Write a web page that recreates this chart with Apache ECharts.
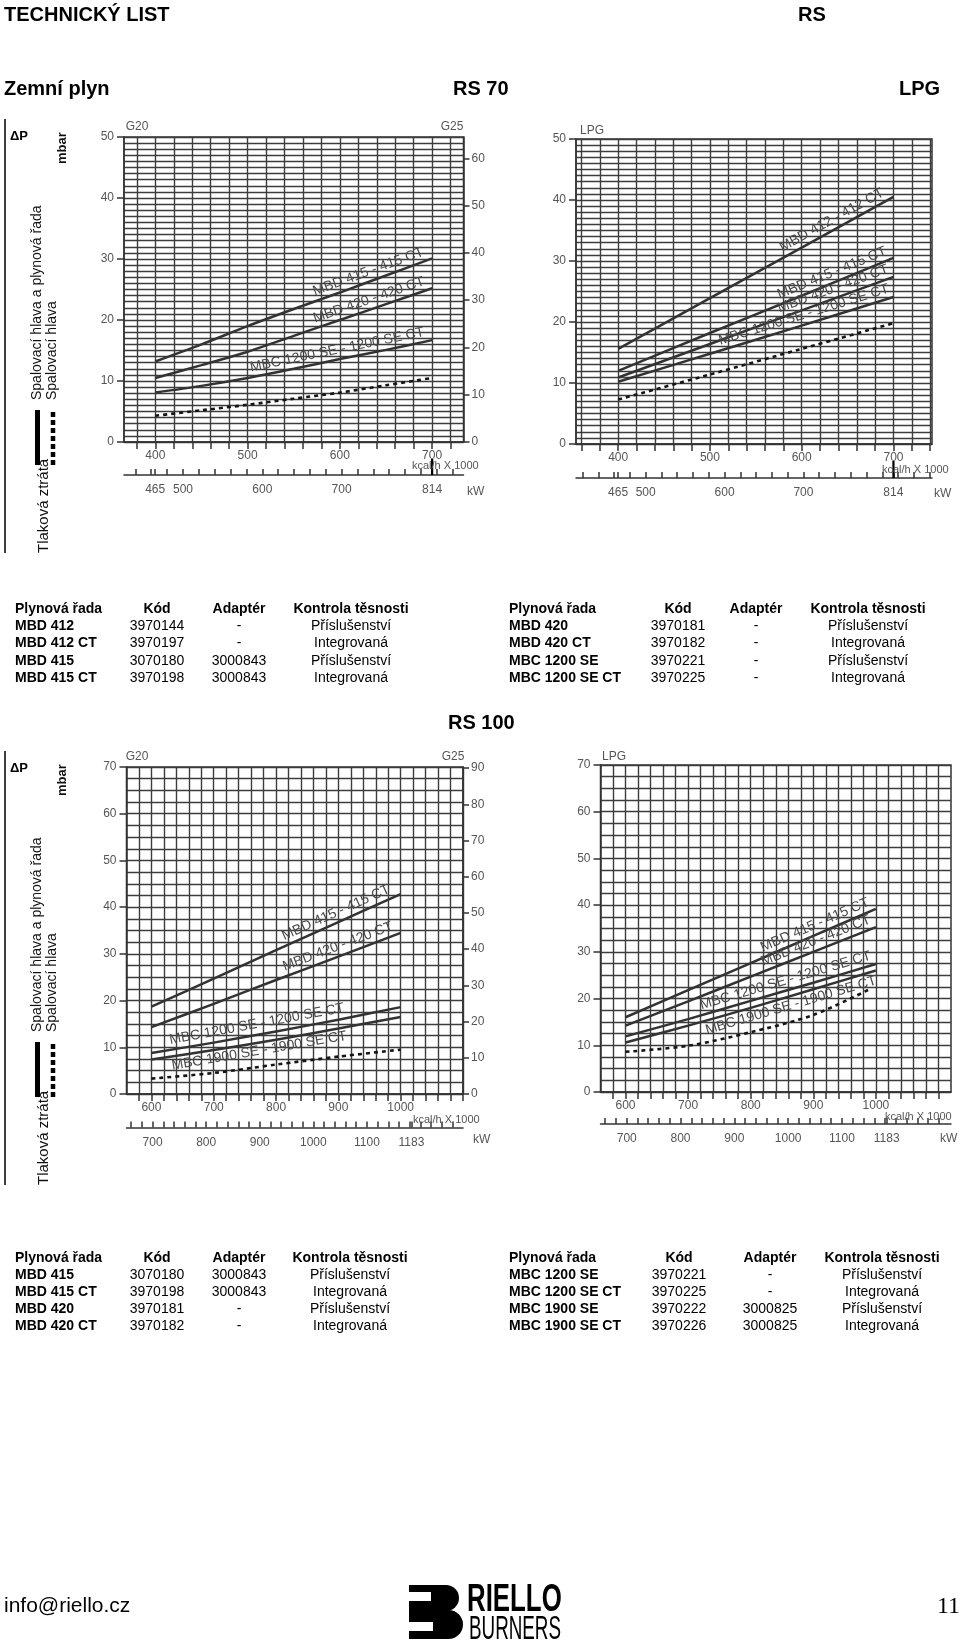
<!DOCTYPE html>
<html lang="cs">
<head>
<meta charset="utf-8">
<title>RS 70 / RS 100 – tlaková ztráta</title>
<script src="https://cdn.jsdelivr.net/npm/echarts@6.0.0/dist/echarts.min.js"></script>
<style>
html,body{margin:0;padding:0;background:#fff}
body{width:960px;height:1645px;position:relative;overflow:hidden;font-family:"Liberation Sans",Arial,sans-serif;color:#000}
#chart{position:absolute;left:0;top:0;width:960px;height:1645px}
.t{position:absolute;white-space:nowrap;line-height:22px}
.h{font-size:20px;font-weight:bold}
.cell{position:absolute;white-space:nowrap;font-size:14px;line-height:18px}
.blk{position:absolute;background:#000}
.wht{position:absolute;background:#fff}
.lg{position:absolute;white-space:nowrap;transform-origin:0 0;color:#000}
</style>
</head>
<body>
<div id="chart"></div>

<div class="t h" style="left:4px;top:3px">TECHNICKÝ LIST</div>
<div class="t h" style="left:798px;top:3px">RS</div>
<div class="t h" style="left:4px;top:77px">Zemní plyn</div>
<div class="t h" style="left:453px;top:77px">RS 70</div>
<div class="t h" style="left:899px;top:77px">LPG</div>
<div class="t h" style="left:448px;top:711px">RS 100</div>
<div class="t" style="left:4px;top:1594px;font-size:21px">info@riello.cz</div>
<div class="t" style="left:937px;top:1594px;font-size:24px;font-family:'Liberation Serif','Times New Roman',serif">11</div>

<div class="blk" style="left:409px;top:1585px;width:50px;height:26px;border-radius:0 13px 13px 0"></div>
<div class="blk" style="left:409px;top:1610px;width:54px;height:29px;border-radius:0 15px 15px 0"></div>
<div class="wht" style="left:409px;top:1592px;width:22px;height:9px"></div>
<div class="wht" style="left:409px;top:1622px;width:24px;height:9px"></div>
<div class="lg" style="left:467px;top:1579px;font-size:38px;line-height:38px;font-weight:bold;transform:scaleX(0.68)">RIELLO</div>
<div class="lg" style="left:469px;top:1611px;font-size:33px;line-height:33px;transform:scaleX(0.57)">BURNERS</div>

<script>
// ================= DATA =================
const KW_PER_KCAL = 1.163;

// tick values / labels
const rs70KcalTicks  = [360,380,400,420,440,460,480,500,520,540,560,580,600,620,640,660,680,700,720,740];
const rs70KcalLabels = [400,500,600,700];
const rs70KwTicks    = [420,440,460,465,480,500,520,540,560,580,600,620,640,660,680,700,720,740,760,780,800,814,820,840,860];
const rs70KwLabels   = [465,500,600,700,814];
const rs100KcalTicks  = [580,600,620,640,660,680,700,720,740,760,780,800,820,840,860,880,900,920,940,960,980,1000,1020,1040,1060,1080,1100];
const rs100KcalLabels = [600,700,800,900,1000];
const rs100KwTicks    = [660,680,700,720,740,760,780,800,820,840,860,880,900,920,940,960,980,1000,1020,1040,1060,1080,1100,1120,1140,1160,1180,1183,1200,1220,1240,1260,1280];
const rs100KwLabels   = [700,800,900,1000,1100,1183];
const rs70G25Ticks  = [0,10,20,30,40,50,60];
const rs100G25Ticks = [0,10,20,30,40,50,60,70,80,90];

// curve names
const nMBD412  = 'MBD 412 - 412 CT';
const nMBD415  = 'MBD 415 - 415 CT';
const nMBD420  = 'MBD 420 - 420 CT';
const nMBC1200 = 'MBC 1200 SE - 1200 SE CT';
const nMBC1900 = 'MBC 1900 SE - 1900 SE CT';

// RS 70 – zemní plyn (G20), kcal/h x1000 -> mbar
const rs70GasX       = [400, 450, 500, 550, 600, 650, 700];
const rs70GasMBD415  = [13.2, 16.0, 19.0, 21.8, 24.5, 27.3, 30.1];
const rs70GasMBD420  = [10.5, 12.6, 14.8, 17.4, 20.0, 22.6, 25.2];
const rs70GasMBC1200 = [8.1, 9.2, 10.5, 12.0, 13.6, 15.1, 16.7];
const rs70GasHead    = [4.3, 5.2, 6.1, 7.1, 8.1, 9.3, 10.5];

// RS 70 – LPG
const rs70LpgX       = [400, 500, 600, 700];
const rs70LpgMBD412  = [15.6, 23.9, 32.2, 40.5];
const rs70LpgMBD415  = [12.0, 18.2, 24.3, 30.5];
const rs70LpgMBD420  = [10.9, 16.4, 21.9, 27.4];
const rs70LpgMBC1200 = [10.2, 14.8, 19.4, 24.1];
const rs70LpgHead    = [7.3, 11.4, 15.6, 19.8];

// RS 100 – zemní plyn (G20)
const rs100GasX       = [600, 700, 800, 900, 1000];
const rs100GasMBD415  = [18.7, 24.7, 30.8, 36.8, 42.8];
const rs100GasMBD420  = [14.3, 19.3, 24.4, 29.4, 34.5];
const rs100GasMBC1200 = [8.8, 11.0, 13.4, 15.9, 18.6];
const rs100GasMBC1900 = [7.4, 9.4, 11.6, 14.0, 16.5];
const rs100GasHead    = [3.3, 4.5, 6.3, 8.0, 9.5];

// RS 100 – LPG
const rs100LpgX       = [600, 700, 800, 900, 1000];
const rs100LpgMBD415  = [16.0, 21.8, 27.6, 33.4, 39.2];
const rs100LpgMBD420  = [14.2, 19.4, 24.7, 30.0, 35.3];
const rs100LpgMBC1200 = [11.9, 15.6, 19.5, 23.4, 27.4];
const rs100LpgMBC1900 = [10.6, 14.2, 18.0, 22.0, 26.0];
const rs100LpgHeadX   = [600, 700, 800, 900, 990];
const rs100LpgHead    = [8.6, 9.9, 12.8, 16.5, 22.0];

// tables
const tableHeader = ['Plynová řada', 'Kód', 'Adaptér', 'Kontrola těsnosti'];
const tRs70GasTrain = ['MBD 412', 'MBD 412 CT', 'MBD 415', 'MBD 415 CT'];
const tRs70GasCode  = ['3970144', '3970197', '3070180', '3970198'];
const tRs70GasAdapt = ['-', '-', '3000843', '3000843'];
const tRs70GasCtrl  = ['Příslušenství', 'Integrovaná', 'Příslušenství', 'Integrovaná'];
const tRs70LpgTrain = ['MBD 420', 'MBD 420 CT', 'MBC 1200 SE', 'MBC 1200 SE CT'];
const tRs70LpgCode  = ['3970181', '3970182', '3970221', '3970225'];
const tRs70LpgAdapt = ['-', '-', '-', '-'];
const tRs70LpgCtrl  = ['Příslušenství', 'Integrovaná', 'Příslušenství', 'Integrovaná'];
const tRs100GasTrain = ['MBD 415', 'MBD 415 CT', 'MBD 420', 'MBD 420 CT'];
const tRs100GasCode  = ['3070180', '3970198', '3970181', '3970182'];
const tRs100GasAdapt = ['3000843', '3000843', '-', '-'];
const tRs100GasCtrl  = ['Příslušenství', 'Integrovaná', 'Příslušenství', 'Integrovaná'];
const tRs100LpgTrain = ['MBC 1200 SE', 'MBC 1200 SE CT', 'MBC 1900 SE', 'MBC 1900 SE CT'];
const tRs100LpgCode  = ['3970221', '3970225', '3970222', '3970226'];
const tRs100LpgAdapt = ['-', '-', '3000825', '3000825'];
const tRs100LpgCtrl  = ['Příslušenství', 'Integrovaná', 'Příslušenství', 'Integrovaná'];

// ================= LAYOUT =================
const FONT = '"Liberation Sans", Arial, sans-serif';
const AX = '#333', GRIDC = '#3d3d3d', LBL = '#555', CURVE = '#333';

const layouts = [
  {left:124,   top:137, width:339.5, height:305, xMin:366, xMax:734,  kwOffset:33,   yMax:50, minor:10, g25Max:64.5},
  {left:576,   top:139, width:356,   height:305, xMin:354, xMax:742,  kwOffset:34,   yMax:50, minor:10},
  {left:126.5, top:767, width:336.5, height:327, xMin:560, xMax:1100, kwOffset:33.5, yMax:70, minor:4,  g25Max:90.3},
  {left:600.5, top:765, width:350.5, height:327, xMin:560, xMax:1120, kwOffset:32,   yMax:70, minor:4}
];

const charts = [
  {L:layouts[0], xTicks:rs70KcalTicks, xLabels:rs70KcalLabels, kwTicks:rs70KwTicks, kwLabels:rs70KwLabels, g25Ticks:rs70G25Ticks,
   curves:[
     {name:nMBD415,  x:rs70GasX, y:rs70GasMBD415,  from:575, to:700},
     {name:nMBD420,  x:rs70GasX, y:rs70GasMBD420,  from:575, to:700},
     {name:nMBC1200, x:rs70GasX, y:rs70GasMBC1200, from:505, to:700},
     {x:rs70GasX, y:rs70GasHead, dashed:true}
   ], arrowAt:700},
  {L:layouts[1], xTicks:rs70KcalTicks, xLabels:rs70KcalLabels, kwTicks:rs70KwTicks, kwLabels:rs70KwLabels,
   curves:[
     {name:nMBD412,  x:rs70LpgX, y:rs70LpgMBD412,  from:582, to:700},
     {name:nMBD415,  x:rs70LpgX, y:rs70LpgMBD415,  from:578, to:700},
     {name:nMBD420,  x:rs70LpgX, y:rs70LpgMBD420,  from:578, to:700},
     {name:nMBC1200, x:rs70LpgX, y:rs70LpgMBC1200, from:513, to:700},
     {x:rs70LpgX, y:rs70LpgHead, dashed:true}
   ], arrowAt:700},
  {L:layouts[2], xTicks:rs100KcalTicks, xLabels:rs100KcalLabels, kwTicks:rs100KwTicks, kwLabels:rs100KwLabels, g25Ticks:rs100G25Ticks,
   curves:[
     {name:nMBD415,  x:rs100GasX, y:rs100GasMBD415,  from:817, to:1000},
     {name:nMBD420,  x:rs100GasX, y:rs100GasMBD420,  from:817, to:1000},
     {name:nMBC1200, x:rs100GasX, y:rs100GasMBC1200, from:632, to:1000},
     {name:nMBC1900, x:rs100GasX, y:rs100GasMBC1900, from:630, to:1000, below:true},
     {x:rs100GasX, y:rs100GasHead, dashed:true}
   ]},
  {L:layouts[3], xTicks:rs100KcalTicks, xLabels:rs100KcalLabels, kwTicks:rs100KwTicks, kwLabels:rs100KwLabels,
   curves:[
     {name:nMBD415,  x:rs100LpgX, y:rs100LpgMBD415,  from:823, to:1000},
     {name:nMBD420,  x:rs100LpgX, y:rs100LpgMBD420,  from:823, to:1000},
     {name:nMBC1200, x:rs100LpgX, y:rs100LpgMBC1200, from:724, to:1000},
     {name:nMBC1900, x:rs100LpgX, y:rs100LpgMBC1900, from:724, to:1000, below:true},
     {x:rs100LpgHeadX, y:rs100LpgHead, dashed:true}
   ]}
];

// ================= TABLES (HTML) =================
const tables = [
  {cols:[tRs70GasTrain, tRs70GasCode, tRs70GasAdapt, tRs70GasCtrl], top:608, step:17.2, x:[15,157,239,351]},
  {cols:[tRs70LpgTrain, tRs70LpgCode, tRs70LpgAdapt, tRs70LpgCtrl], top:608, step:17.2, x:[509,678,756,868]},
  {cols:[tRs100GasTrain, tRs100GasCode, tRs100GasAdapt, tRs100GasCtrl], top:1257, step:17.0, x:[15,157,239,350]},
  {cols:[tRs100LpgTrain, tRs100LpgCode, tRs100LpgAdapt, tRs100LpgCtrl], top:1257, step:17.0, x:[509,679,770,882]}
];
tables.forEach(tb => {
  const nRows = tb.cols[0].length + 1;
  for (let r = 0; r < nRows; r++) {
    for (let c = 0; c < 4; c++) {
      const txt = r === 0 ? tableHeader[c] : tb.cols[c][r - 1];
      const d = document.createElement('div');
      d.className = 'cell';
      d.textContent = txt;
      d.style.top = (tb.top + r * tb.step - 9) + 'px';
      if (c === 0) {
        d.style.left = tb.x[0] + 'px';
      } else {
        d.style.left = (tb.x[c] - 100) + 'px';
        d.style.width = '200px';
        d.style.textAlign = 'center';
      }
      d.style.fontWeight = (r === 0 || c === 0) ? 'bold' : 'normal';
      document.body.appendChild(d);
    }
  }
});

// ================= CHART =================
const chart = echarts.init(document.getElementById('chart'), null, {renderer:'canvas', width:960, height:1645});
const plain = v => String(Math.round(v * 10) / 10);
const lbl = {color:LBL, fontSize:12, fontFamily:FONT, formatter:plain};
const grids = [], xAxes = [], yAxes = [], series = [];

charts.forEach((c, ci) => {
  const L = c.L;
  grids.push({left:L.left, top:L.top, width:L.width, height:L.height, show:true,
              borderColor:AX, borderWidth:1.5, backgroundColor:'rgba(0,0,0,0)'});
  c.xi = xAxes.length;
  xAxes.push({type:'value', gridIndex:ci, min:L.xMin, max:L.xMax, position:'bottom',
    axisLine:{show:true, onZero:false, lineStyle:{color:AX, width:1.5}},
    axisTick:{show:true, length:7, customValues:c.xTicks, lineStyle:{color:AX, width:1.5}},
    axisLabel:Object.assign({show:true, customValues:c.xLabels, margin:8}, lbl),
    splitLine:{show:true, lineStyle:{color:GRIDC, width:1.4}}});
  xAxes.push({type:'value', gridIndex:ci, min:L.xMin * KW_PER_KCAL, max:L.xMax * KW_PER_KCAL,
    position:'bottom', offset:L.kwOffset,
    axisLine:{show:true, onZero:false, lineStyle:{color:AX, width:1.5}},
    axisTick:{show:true, inside:true, length:6, customValues:c.kwTicks, lineStyle:{color:AX, width:1.5}},
    axisLabel:Object.assign({show:true, customValues:c.kwLabels, margin:9}, lbl),
    splitLine:{show:false}});
  c.yi = yAxes.length;
  yAxes.push({type:'value', gridIndex:ci, min:0, max:L.yMax, interval:10, position:'left',
    axisLine:{show:true, onZero:false, lineStyle:{color:AX, width:1.5}},
    axisTick:{show:true, length:7, lineStyle:{color:AX, width:1.5}},
    axisLabel:Object.assign({margin:10}, lbl),
    splitLine:{show:true, lineStyle:{color:GRIDC, width:1.4}},
    minorTick:{show:false, splitNumber:L.minor},
    minorSplitLine:{show:true, lineStyle:{color:GRIDC, width:1.3}}});
  if (L.g25Max) {
    yAxes.push({type:'value', gridIndex:ci, min:0, max:L.g25Max, position:'right',
      axisLine:{show:true, onZero:false, lineStyle:{color:AX, width:1.5}},
      axisTick:{show:true, length:6, customValues:c.g25Ticks, lineStyle:{color:AX, width:1.5}},
      axisLabel:Object.assign({customValues:c.g25Ticks, margin:8}, lbl),
      splitLine:{show:false}});
  }
  c.curves.forEach(cv => {
    series.push({type:'line', xAxisIndex:c.xi, yAxisIndex:c.yi, name:cv.name || 'Spalovací hlava',
      data:cv.x.map((v, i) => [v, cv.y[i]]), smooth:0.3, symbol:'none', silent:true, z:5,
      lineStyle: cv.dashed ? {color:'#151515', width:2.6, type:[4, 4]} : {color:CURVE, width:2.5}});
  });
});

chart.setOption({animation:false, backgroundColor:'#fff', grid:grids, xAxis:xAxes, yAxis:yAxes, series:series});

// ---------- graphic: texts / legend ----------
function interp(xs, ys, x) {
  for (let i = 0; i < xs.length - 1; i++) {
    if (x <= xs[i + 1]) { const t = (x - xs[i]) / (xs[i + 1] - xs[i]); return ys[i] + t * (ys[i + 1] - ys[i]); }
  }
  return ys[ys.length - 1];
}
function txt(t, x, y, o) {
  o = o || {};
  const align = o.align || 'left', va = o.va || 'middle';
  return {type:'text', x:x, y:y, rotation:o.rot || 0, silent:true, z:100,
    style:{text:t, fill:o.fill || LBL,
      font:(o.weight || 'normal') + ' ' + (o.size || 12) + 'px ' + FONT,
      align:align, verticalAlign:va, textAlign:align, textVerticalAlign:va}};
}
const graphics = [];

// curve labels along the lines
charts.forEach(c => {
  const f = {xAxisIndex:c.xi, yAxisIndex:c.yi};
  c.curves.forEach(cv => {
    if (!cv.name) return;
    const p0 = chart.convertToPixel(f, [cv.from, interp(cv.x, cv.y, cv.from)]);
    const p1 = chart.convertToPixel(f, [cv.to, interp(cv.x, cv.y, cv.to)]);
    const a = Math.atan2(p0[1] - p1[1], p1[0] - p0[0]);
    const d = cv.below ? -2.5 : 2.5;
    const ax = p0[0] - d * Math.sin(a), ay = p0[1] - d * Math.cos(a);
    graphics.push(txt(cv.name, ax, ay, {rot:a, size:14, fill:'#4a4a4a', va: cv.below ? 'top' : 'bottom'}));
  });
  if (c.arrowAt) {
    const p = chart.convertToPixel(f, [c.arrowAt, 0]);
    graphics.push({type:'line', silent:true, z:100, shape:{x1:p[0], y1:p[1] + 17, x2:p[0], y2:p[1] + c.L.kwOffset},
      style:{stroke:'#000', lineWidth:2.2}});
  }
});

// fixed captions
[
  ['G20', 137, 127, 'center'], ['G25', 452, 127, 'center'],
  ['kcal/h X 1000', 412, 466], ['kW', 467, 492],
  ['LPG', 580, 131], ['kcal/h X 1000', 882, 470], ['kW', 934, 494],
  ['G20', 137, 757, 'center'], ['G25', 453, 757, 'center'],
  ['kcal/h X 1000', 413, 1120], ['kW', 473, 1140],
  ['LPG', 602, 757], ['kcal/h X 1000', 885, 1117], ['kW', 940, 1139]
].forEach(a => graphics.push(txt(a[0], a[1], a[2], {align:a[3] || 'left', size:a[0].length > 3 ? 11 : 12})));

// left legend blocks
[0, 632].forEach(b => {
  graphics.push({type:'line', silent:true, shape:{x1:5, y1:119 + b, x2:5, y2:553 + b}, style:{stroke:'#000', lineWidth:1.5}});
  graphics.push(txt('ΔP', 10, 136 + b, {size:13, weight:'bold', fill:'#000'}));
  graphics.push(txt('mbar', 62, 164 + b, {size:13, weight:'bold', fill:'#111', rot:Math.PI / 2}));
  graphics.push(txt('Spalovací hlava a plynová řada', 37, 400 + b, {size:14, fill:'#111', rot:Math.PI / 2}));
  graphics.push(txt('Spalovací hlava', 52, 400 + b, {size:14, fill:'#111', rot:Math.PI / 2}));
  graphics.push({type:'rect', silent:true, shape:{x:35, y:410 + b, width:5, height:55}, style:{fill:'#000'}});
  graphics.push({type:'line', silent:true, shape:{x1:53, y1:412 + b, x2:53, y2:466 + b}, style:{stroke:'#000', lineWidth:4.5, lineDash:[5, 3]}});
  graphics.push(txt('Tlaková ztráta', 44, 553 + b, {size:15, fill:'#111', rot:Math.PI / 2}));
});

chart.setOption({graphic:{elements:graphics}});
</script>
</body>
</html>
